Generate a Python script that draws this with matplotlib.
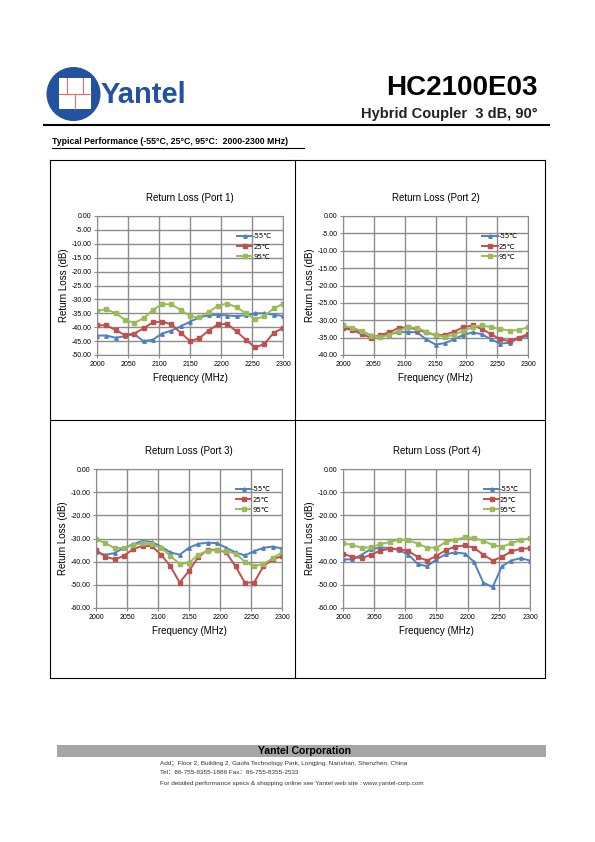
import numpy as np
import matplotlib.pyplot as plt
from matplotlib.patches import Ellipse, Rectangle
from matplotlib.lines import Line2D

plt.rcParams['font.family'] = ['Liberation Sans', 'DejaVu Sans', 'Noto Sans CJK SC']

# data
freq = [2000, 2015, 2030, 2045, 2060, 2075, 2090, 2105, 2120, 2135, 2150,
        2165, 2180, 2195, 2210, 2225, 2240, 2255, 2270, 2285, 2300]
temps = ['-55℃', '25℃', '95℃']

p1_m55 = [-43, -43, -43.8, -43.2, -42.5, -45, -44.5, -42.3, -41.2, -39.7, -38,
          -36.5, -35.7, -35.5, -35.8, -36, -35.7, -35, -35, -35.5, -36]
p1_25 = [-39.3, -39.3, -41, -42.8, -42.3, -40.4, -38.3, -38, -39, -42, -45,
         -44, -41.2, -39, -38.8, -41.5, -44.5, -47.3, -46, -42, -40.3]
p1_95 = [-34.2, -33.5, -35, -37.3, -38.5, -36.8, -33.8, -31.7, -31.8, -33.8, -36,
         -36.5, -34.5, -32.3, -31.5, -32.8, -35, -37.2, -36, -33.2, -31.6]

p2_m55 = [-32.2, -32.5, -33.2, -34.3, -34.8, -34, -33.5, -33.3, -33.5, -35.5, -37,
          -36.6, -35.5, -34.2, -33.5, -34, -35.5, -36.7, -36.5, -35.2, -34.5]
p2_25 = [-32.3, -32.8, -34, -35, -34.3, -33.5, -32.2, -32, -32.7, -33.5, -34.3,
         -34.2, -33.3, -32, -31.5, -32.5, -34, -35.5, -36, -35, -34]
p2_95 = [-31.5, -32.2, -33, -34.4, -34.8, -34.3, -33, -32, -32.2, -33.3, -34.2,
         -34.8, -34.2, -33, -32, -31.5, -32, -32.5, -33, -32.8, -32]

p3_m55 = [-36, -37, -36.3, -34, -32.5, -31, -31.5, -33.5, -36, -37, -34,
          -32.3, -31.8, -32, -34, -36, -37.3, -35.5, -34, -33.5, -34.3]
p3_25 = [-35, -37.8, -39, -37.5, -34.5, -33.2, -33.3, -37, -42, -49, -44,
         -38, -35, -34.8, -36, -42, -49, -49, -42, -39, -37.6]
p3_95 = [-30.3, -32, -34.2, -34, -33, -32, -32.5, -34, -37.5, -41, -40.5,
         -37, -35.3, -35, -35.5, -36.5, -40, -42, -41, -38.5, -36]

p4_m55 = [-39, -39, -37, -34.5, -34, -34, -35, -37, -41, -42, -39,
          -36.8, -36, -36.5, -40, -49, -51, -42, -39.5, -38.5, -39.5]
p4_25 = [-36.5, -38, -38.5, -37, -35.2, -34.5, -34.5, -35.5, -38, -39.5, -37.5,
         -35, -33.5, -33, -34, -37, -39.5, -38, -35.5, -34.5, -34.2]
p4_95 = [-32, -32.8, -34, -33.8, -32.5, -31.5, -30.5, -30.8, -32.2, -34, -34,
         -31.5, -30.5, -29.5, -29.7, -31, -32.8, -33.6, -32, -30.8, -29.8]

W, H = 595, 842
fig = plt.figure(figsize=(W / 100, H / 100), dpi=100)


def fx(x):
    return x / W


def fy(y):
    return 1 - y / H


def px_axes(l, t, r, b):
    return [fx(l), fy(b), fx(r) - fx(l), fy(t) - fy(b)]


def hline(x0, x1, y, **kw):
    fig.add_artist(Line2D([fx(x0), fx(x1)], [fy(y), fy(y)], transform=fig.transFigure, **kw))


def vline(x, y0, y1, **kw):
    fig.add_artist(Line2D([fx(x), fx(x)], [fy(y0), fy(y1)], transform=fig.transFigure, **kw))


# header / logo
fig.add_artist(Ellipse((fx(73.5), fy(94)), 54 / W, 54 / H, transform=fig.transFigure,
                       facecolor='#2352a0', edgecolor='none'))
fig.add_artist(Rectangle((fx(59), fy(109)), 32 / W, 31 / H, transform=fig.transFigure,
                         facecolor='white', edgecolor='none'))
red = '#ea6a6e'
hline(59, 91, 93.5, color=red, lw=0.8)
vline(67, 78, 93.5, color=red, lw=0.8)
vline(82.5, 78, 93.5, color=red, lw=0.8)
vline(74.5, 93.5, 109, color=red, lw=0.8)
fig.text(fx(101), fy(95), 'Yantel', fontsize=21, fontweight='bold', color='#2352a0',
         ha='left', va='center')
fig.text(fx(538), fy(88), 'HC2100E03', fontsize=20, fontweight='bold', ha='right', va='center')
fig.text(fx(538), fy(114), 'Hybrid Coupler  3 dB, 90°', fontsize=10.5, fontweight='bold',
         ha='right', va='center', color='#222222')
hline(44, 549, 125, color='black', lw=1.5)
fig.text(fx(52), fy(142), 'Typical Performance (-55°C, 25°C, 95°C:  2000-2300 MHz)',
         fontsize=6.3, fontweight='bold', ha='left', va='center')
hline(52, 304, 148, color='black', lw=0.8)

# outer box
for y in (160, 420, 678):
    hline(50, 545, y, color='black', lw=0.8)
for x in (50, 295, 545):
    vline(x, 160, 678, color='black', lw=0.8)

panels = [
    ('Return Loss (Port 1)', (97, 216, 283, 355), (p1_m55, p1_25, p1_95), -50, 5),
    ('Return Loss (Port 2)', (343, 216, 528, 355), (p2_m55, p2_25, p2_95), -40, 5),
    ('Return Loss (Port 3)', (96, 469, 282, 608), (p3_m55, p3_25, p3_95), -60, 10),
    ('Return Loss (Port 4)', (343, 469, 530, 608), (p4_m55, p4_25, p4_95), -60, 10),
]
colors = ['#4f81bd', '#c0504d', '#9bbb59']
markers = ['^', 's', 's']

for title, box, series, ymin, step in panels:
    ax = fig.add_axes(px_axes(*box))
    for vals, c, m, lab in zip(series, colors, markers, temps):
        ax.plot(freq, vals, color=c, marker=m, markersize=2.5, lw=1.4, label=lab)
    ax.set_xlim(2000, 2300)
    ax.set_ylim(ymin, 0)
    ax.set_xticks(np.arange(2000, 2301, 50))
    ax.set_yticks(np.arange(ymin, 0.1, step))
    ax.set_yticklabels(['%.2f' % v for v in np.arange(ymin, 0.1, step)])
    ax.grid(True, color='#8c8c8c', lw=1)
    ax.set_axisbelow(True)
    for s in ax.spines.values():
        s.set_color('#8c8c8c')
    ax.tick_params(labelsize=5, length=2, color='#8c8c8c', pad=2)
    ax.set_title(title, fontsize=7, pad=11)
    ax.set_xlabel('Frequency (MHz)', fontsize=7, labelpad=4)
    ax.set_ylabel('Return Loss (dB)', fontsize=7, labelpad=2)
    ax.legend(loc='upper left', bbox_to_anchor=(0.72, 0.92), frameon=False,
              handlelength=2.2, handletextpad=0.1, labelspacing=0.6,
              prop={'family': ['DejaVu Sans', 'Noto Sans CJK SC'], 'size': 5})

# footer
fig.add_artist(Rectangle((fx(57), fy(757)), 489 / W, 12 / H, transform=fig.transFigure,
                         facecolor='#a6a6a9', edgecolor='none'))
fig.text(fx(305), fy(751), 'Yantel Corporation', fontsize=7.5, fontweight='bold',
         ha='center', va='center')
foot = ['Add；Floor 2, Building 2, Gaofa Technology Park, Longjing, Nanshan, Shenzhen, China',
        'Tel：86-755-8355-1886 Fax：86-755-8355-2533',
        'For detailed performance specs & shopping online see Yantel web site : www.yantel-corp.com']
for i, line in enumerate(foot):
    fig.text(fx(160), fy(763 + 10 * i), line, fontsize=4.6, ha='left', va='center',
             color='#333333', family=['Liberation Sans', 'Noto Sans CJK SC'])

fig.savefig('out.png', dpi=100)
